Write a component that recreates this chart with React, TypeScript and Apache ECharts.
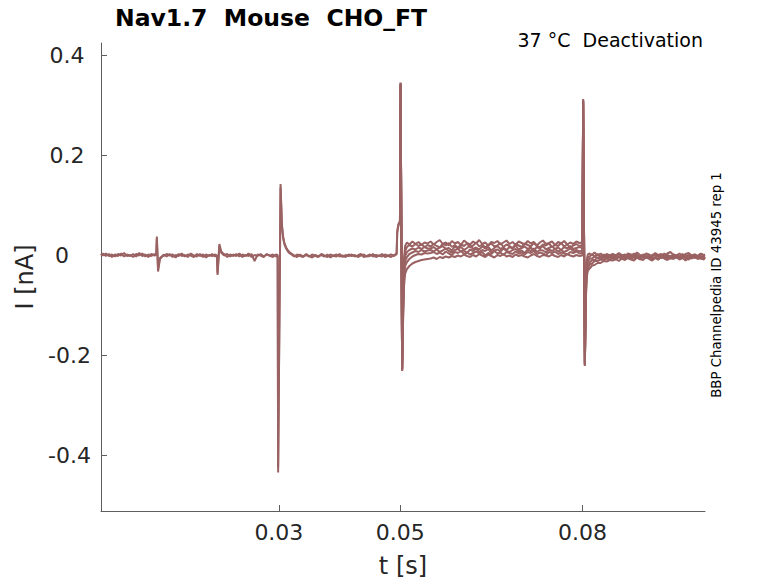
import React, { useEffect, useRef } from "react";
import * as echarts from "echarts";

const TRACE_COLOR = "#9a6262";

const xTicks = [0.03, 0.05, 0.08];
const yTicks = [-0.4, -0.2, 0, 0.2, 0.4];

// time points for the first part (shared by the two early traces)
const preTimes = [
  0.0007, 0.001, 0.0015, 0.002, 0.0025, 0.003, 0.0035, 0.004, 0.0045, 0.005, 0.0055, 0.006, 0.0065, 0.007, 0.0075, 0.008, 0.0085, 0.009, 0.0095,
  0.0098, 0.0099, 0.0101, 0.0104, 0.0108,
  0.011, 0.0115, 0.012, 0.0125, 0.013, 0.0135, 0.014, 0.0145, 0.015, 0.0155, 0.016, 0.0165, 0.017, 0.0175, 0.018, 0.0185, 0.019, 0.0195,
  0.0198, 0.0199, 0.0202, 0.0205, 0.0209,
  0.021, 0.0215, 0.022, 0.0225, 0.023, 0.0235, 0.024, 0.0245, 0.025, 0.0255, 0.026, 0.0265, 0.027, 0.0275, 0.028, 0.0285, 0.029, 0.0295,
  0.0298, 0.02988, 0.03028, 0.0305, 0.0307, 0.0309, 0.0312, 0.0315, 0.0318, 0.0322,
  0.0325, 0.033, 0.0335, 0.034, 0.0345, 0.035, 0.0355, 0.036, 0.0365, 0.037, 0.0375, 0.038, 0.0385, 0.039, 0.0395, 0.04, 0.0405, 0.041, 0.0415, 0.042, 0.0425, 0.043, 0.0435, 0.044, 0.0445, 0.045, 0.0455, 0.046, 0.0465, 0.047, 0.0475, 0.048, 0.0485, 0.049,
  0.0494, 0.0495, 0.0497, 0.04995,
];

const preTraceA = [
  0.002, -0.001, 0.003, -0.002, 0.001, -0.003, 0.002, -0.001, 0.004, -0.002, 0.0, -0.004, 0.002, -0.001, 0.003, -0.003, 0.001, -0.002, 0.002,
  -0.001, 0.037, -0.033, -0.008, -0.003,
  0.001, -0.003, 0.002, -0.004, 0.0, -0.002, 0.003, -0.003, 0.001, -0.001, -0.004, 0.002, -0.002, 0.001, -0.005, 0.0, -0.002, 0.001,
  -0.002, -0.036, 0.022, 0.007, 0.002,
  -0.001, 0.002, -0.003, 0.001, -0.002, 0.003, -0.004, 0.0, -0.002, 0.002, -0.012, 0.001, -0.001, -0.004, 0.002, -0.002, 0.001, -0.003,
  -0.002, -0.435, 0.142, 0.062, 0.037, 0.025, 0.015, 0.009, 0.005, 0.002,
  -0.001, -0.004, 0.001, -0.003, 0.002, -0.002, -0.005, 0.0, -0.003, 0.002, -0.001, -0.004, 0.001, -0.002, -0.003, 0.002, -0.004, 0.0, -0.002, 0.001, -0.003, -0.001, 0.002, -0.004, -0.002, 0.001, -0.003, 0.0, -0.002, 0.002, -0.004, -0.001, 0.001, -0.002,
  0.004, 0.048, 0.062, 0.068,
];

const preTraceB = [
  -0.001, 0.003, -0.002, 0.002, -0.004, 0.001, -0.002, 0.003, -0.003, 0.001, -0.002, 0.002, -0.003, 0.004, -0.002, 0.001, -0.004, 0.002, -0.001,
  0.001, 0.033, -0.028, -0.006, -0.002,
  -0.002, 0.002, -0.001, 0.001, -0.005, 0.002, -0.002, 0.0, -0.004, 0.003, -0.001, -0.003, 0.002, -0.004, 0.001, -0.002, 0.002, -0.003,
  0.0, -0.04, 0.018, 0.005, 0.0,
  0.002, -0.004, 0.001, -0.002, 0.002, -0.003, 0.001, -0.002, 0.003, -0.004, 0.0, -0.002, 0.002, -0.003, 0.001, -0.001, -0.004, 0.001,
  0.0, -0.425, 0.135, 0.058, 0.034, 0.022, 0.013, 0.007, 0.003, 0.0,
  -0.003, 0.001, -0.002, -0.004, 0.0, -0.003, 0.001, -0.002, -0.004, 0.0, -0.003, 0.001, -0.005, -0.001, 0.001, -0.003, -0.001, -0.004, 0.001, -0.002, 0.0, -0.004, -0.001, 0.001, -0.003, -0.002, 0.002, -0.004, -0.001, -0.003, 0.001, -0.002, -0.004, 0.0,
  0.001, 0.044, 0.059, 0.066,
];

// time points for the second part (shared by the six later sweeps)
const postTimes = [
  0.04995, 0.05005, 0.05031,
  0.05045, 0.0506, 0.0508, 0.0511, 0.0515, 0.052, 0.0525, 0.053, 0.0535, 0.054, 0.0545,
  0.055, 0.0555, 0.056, 0.0565, 0.057, 0.0575, 0.058, 0.0585, 0.059, 0.0595,
  0.06, 0.0605, 0.061, 0.0615, 0.062, 0.0625, 0.063, 0.0635, 0.064, 0.0645,
  0.065, 0.0655, 0.066, 0.0665, 0.067, 0.0675, 0.068, 0.0685, 0.069, 0.0695,
  0.07, 0.0705, 0.071, 0.0715, 0.072, 0.0725, 0.073, 0.0735, 0.074, 0.0745,
  0.075, 0.0755, 0.076, 0.0765, 0.077, 0.0775, 0.078, 0.0785, 0.079, 0.0795,
  0.08, 0.08013, 0.08041,
  0.08055, 0.0807, 0.0809, 0.0812, 0.0816, 0.082, 0.0825, 0.083, 0.0835, 0.084, 0.0845,
  0.085, 0.0855, 0.086, 0.0865, 0.087, 0.0875, 0.088, 0.0885, 0.089, 0.0895,
  0.09, 0.0905, 0.091, 0.0915, 0.092, 0.0925, 0.093, 0.0935, 0.094, 0.0945,
  0.095, 0.0955, 0.096, 0.0965, 0.097, 0.0975, 0.098, 0.0985, 0.099, 0.0995,
  0.1, 0.1002,
];

const sweep1 = [
  0.068, 0.345, -0.232,
  -0.09, -0.01, 0.018, 0.025, 0.021, 0.027, 0.022, 0.026, 0.02, 0.025, 0.023,
  0.027, 0.021, 0.026, 0.03, 0.022, 0.025, 0.019, 0.028, 0.023, 0.026,
  0.02, 0.029, 0.024, 0.021, 0.027, 0.023, 0.03, 0.022, 0.025, 0.019,
  0.026, 0.024, 0.028, 0.021, 0.025, 0.029, 0.022, 0.026, 0.02, 0.027,
  0.024, 0.021, 0.028, 0.023, 0.026, 0.019, 0.025, 0.029, 0.022, 0.024,
  0.027, 0.02, 0.026, 0.023, 0.028, 0.021, 0.025, 0.022, 0.027, 0.024,
  0.025, 0.312, -0.222,
  -0.1, -0.046, -0.031, -0.027, -0.021, -0.02, -0.016, -0.016, -0.012, -0.013, -0.01,
  -0.011, -0.008, -0.012, -0.007, -0.01, -0.006, -0.009, -0.011, -0.005, -0.008,
  -0.01, -0.004, -0.008, -0.011, -0.006, -0.009, -0.003, -0.007, -0.01, -0.005,
  -0.008, -0.004, -0.009, -0.006, -0.011, -0.005, -0.007, -0.003, -0.008, -0.006,
  -0.009, -0.005,
];

const sweep2 = [
  0.067, 0.34, -0.228,
  -0.1, -0.02, 0.008, 0.016, 0.02, 0.017, 0.022, 0.018, 0.021, 0.016, 0.02,
  0.017, 0.022, 0.018, 0.015, 0.023, 0.019, 0.024, 0.016, 0.02, 0.014,
  0.021, 0.018, 0.023, 0.016, 0.019, 0.025, 0.017, 0.021, 0.015, 0.02,
  0.023, 0.017, 0.019, 0.024, 0.016, 0.021, 0.018, 0.014, 0.022, 0.019,
  0.016, 0.023, 0.02, 0.017, 0.024, 0.018, 0.015, 0.021, 0.019, 0.023,
  0.016, 0.02, 0.018, 0.024, 0.017, 0.021, 0.015, 0.019, 0.022, 0.018,
  0.02, 0.308, -0.218,
  -0.095, -0.038, -0.027, -0.019, -0.017, -0.012, -0.012, -0.009, -0.01, -0.007, -0.009,
  -0.006, -0.009, -0.004, -0.007, -0.002, -0.006, -0.008, -0.003, -0.005, -0.009,
  -0.004, -0.006, -0.001, -0.007, -0.005, -0.009, -0.003, -0.006, -0.004, -0.008,
  -0.002, -0.005, -0.007, -0.003, -0.006, -0.009, -0.004, -0.006, -0.002, -0.007,
  -0.005, -0.004,
];

const sweep3 = [
  0.068, 0.343, -0.23,
  -0.11, -0.03, -0.002, 0.006, 0.01, 0.013, 0.011, 0.015, 0.012, 0.016, 0.013,
  0.013, 0.016, 0.011, 0.015, 0.018, 0.012, 0.014, 0.009, 0.017, 0.013,
  0.016, 0.01, 0.014, 0.019, 0.012, 0.015, 0.011, 0.017, 0.013, 0.016,
  0.009, 0.014, 0.018, 0.012, 0.015, 0.01, 0.016, 0.013, 0.019, 0.011,
  0.014, 0.017, 0.012, 0.015, 0.009, 0.016, 0.013, 0.018, 0.011, 0.014,
  0.017, 0.012, 0.015, 0.01, 0.016, 0.013, 0.018, 0.012, 0.014, 0.016,
  0.014, 0.31, -0.22,
  -0.09, -0.03, -0.019, -0.015, -0.01, -0.01, -0.006, -0.007, -0.005, -0.006, -0.004,
  -0.003, -0.006, -0.002, -0.005, -0.008, -0.003, -0.001, -0.006, -0.004, -0.007,
  -0.002, -0.005, -0.003, -0.008, -0.004, -0.001, -0.006, -0.003, -0.007, -0.002,
  -0.005, -0.004, -0.008, -0.002, -0.004, -0.006, -0.001, -0.005, -0.003, -0.007,
  -0.004, -0.003,
];

const sweep4 = [
  0.066, 0.338, -0.226,
  -0.12, -0.04, -0.012, -0.004, 0.002, 0.005, 0.008, 0.006, 0.01, 0.007, 0.009,
  0.01, 0.007, 0.011, 0.006, 0.009, 0.013, 0.008, 0.005, 0.01, 0.012,
  0.007, 0.009, 0.004, 0.011, 0.008, 0.013, 0.006, 0.01, 0.008, 0.012,
  0.005, 0.009, 0.011, 0.007, 0.013, 0.008, 0.006, 0.01, 0.012, 0.007,
  0.009, 0.004, 0.011, 0.008, 0.013, 0.006, 0.01, 0.009, 0.005, 0.011,
  0.008, 0.012, 0.007, 0.01, 0.006, 0.009, 0.013, 0.008, 0.01, 0.007,
  0.009, 0.305, -0.216,
  -0.085, -0.022, -0.014, -0.007, -0.007, -0.003, -0.006, -0.002, -0.005, -0.001, -0.004,
  -0.004, -0.001, -0.005, -0.002, 0.001, -0.004, -0.006, -0.002, 0.0, -0.005,
  -0.003, -0.001, -0.006, -0.002, 0.001, -0.004, -0.002, -0.005, 0.0, -0.003,
  -0.006, -0.001, -0.004, 0.001, -0.003, -0.005, -0.002, 0.0, -0.004, -0.002,
  -0.005, -0.003,
];

const sweep5 = [
  0.068, 0.344, -0.231,
  -0.13, -0.05, -0.022, -0.014, -0.008, -0.003, 0.0, 0.002, 0.001, 0.004, 0.003,
  0.004, 0.006, 0.002, 0.005, 0.001, 0.007, 0.003, 0.0, 0.006, 0.004,
  0.008, 0.002, 0.005, 0.001, 0.004, 0.007, 0.003, 0.006, -0.001, 0.004,
  0.002, 0.008, 0.003, 0.005, 0.0, 0.006, 0.004, 0.002, 0.007, 0.003,
  0.005, 0.001, 0.006, 0.004, 0.008, 0.002, 0.005, 0.003, 0.0, 0.006,
  0.004, 0.007, 0.002, 0.005, 0.003, 0.001, 0.006, 0.004, 0.007, 0.003,
  0.004, 0.309, -0.221,
  -0.08, -0.015, -0.005, -0.003, 0.001, -0.003, 0.002, -0.004, 0.001, -0.003, 0.0,
  0.0, -0.003, 0.002, -0.002, -0.005, 0.001, -0.002, 0.003, -0.001, -0.004,
  0.001, -0.002, -0.005, 0.0, 0.002, -0.003, -0.001, 0.003, -0.002, -0.004,
  0.001, -0.001, -0.003, 0.002, -0.002, 0.0, -0.004, 0.001, -0.002, 0.003,
  -0.001, -0.002,
];

const sweep6 = [
  0.067, 0.341, -0.229,
  -0.14, -0.065, -0.038, -0.028, -0.022, -0.017, -0.014, -0.012, -0.01, -0.009, -0.008,
  -0.007, -0.005, -0.008, -0.004, -0.006, -0.003, -0.005, -0.002, -0.004, -0.001,
  -0.003, 0.001, -0.002, -0.004, 0.0, -0.003, 0.002, -0.001, -0.004, 0.001,
  -0.002, -0.005, 0.0, -0.002, 0.002, -0.003, -0.001, -0.004, 0.001, -0.002,
  0.0, -0.003, -0.005, -0.001, 0.002, -0.002, -0.004, 0.0, -0.001, -0.003,
  0.001, -0.002, -0.004, 0.0, -0.003, 0.002, -0.001, -0.003, 0.0, -0.002,
  -0.001, 0.306, -0.219,
  -0.075, -0.01, 0.001, 0.003, 0.0, 0.005, -0.001, 0.003, -0.002, 0.002, -0.001,
  0.002, -0.001, 0.004, 0.0, -0.003, 0.003, 0.001, -0.002, 0.005, 0.0,
  -0.002, 0.003, 0.001, -0.003, 0.004, 0.0, 0.002, -0.002, 0.003, 0.006,
  0.0, -0.001, 0.003, -0.002, 0.002, 0.004, -0.001, 0.001, -0.003, 0.002,
  0.0, 0.001,
];

const preTraces = [preTraceA, preTraceB];
const postTraces = [sweep1, sweep2, sweep3, sweep4, sweep5, sweep6];

const FONT = "DejaVu Sans";
const LABEL_COLOR = "#262626";
const AXIS_COLOR = "#5e5e5e";

function makeLine(times: number[], values: number[]) {
  const data: number[][] = [];
  for (let i = 0; i < times.length && i < values.length; i++) {
    data.push([times[i], values[i]]);
  }
  return {
    type: "line",
    data,
    symbol: "none",
    showSymbol: false,
    silent: true,
    lineStyle: { color: TRACE_COLOR, width: 2 },
    itemStyle: { color: TRACE_COLOR },
    emphasis: { disabled: true },
  };
}

export default function App() {
  const ref = useRef<HTMLDivElement>(null);

  useEffect(() => {
    if (!ref.current) return;
    const chart = echarts.init(ref.current, undefined, { renderer: "svg" });
    const series = [
      ...preTraces.map((v) => makeLine(preTimes, v)),
      ...postTraces.map((v) => makeLine(postTimes, v)),
    ];
    const yRich = {
      z: { fontSize: 22, fontFamily: FONT, color: LABEL_COLOR, padding: [0, 10, 0, 0] },
      n: { fontSize: 22, fontFamily: FONT, color: LABEL_COLOR, padding: [0, 0, 0, 5] },
      p: { fontSize: 22, fontFamily: FONT, color: LABEL_COLOR },
    };
    chart.setOption({
      animation: false,
      backgroundColor: "#ffffff",
      grid: { left: 101, right: 73, top: 43, bottom: 71 },
      xAxis: {
        type: "value",
        min: 0.0007,
        max: 0.1002,
        name: "t [s]",
        nameLocation: "middle",
        nameGap: 43,
        nameTextStyle: { fontSize: 24, fontFamily: FONT, color: LABEL_COLOR },
        axisLine: { show: true, onZero: false, lineStyle: { color: AXIS_COLOR, width: 1 } },
        axisTick: {
          show: true,
          inside: true,
          length: 6,
          customValues: xTicks,
          lineStyle: { color: AXIS_COLOR, width: 1 },
        },
        axisLabel: {
          show: true,
          customValues: xTicks,
          margin: 10,
          fontSize: 22,
          fontFamily: FONT,
          color: LABEL_COLOR,
          formatter: (v: number) => String(v),
        },
        splitLine: { show: false },
      },
      yAxis: {
        type: "value",
        min: -0.512,
        max: 0.424,
        name: "I [nA]",
        nameLocation: "middle",
        nameRotate: 90,
        nameGap: 62,
        nameTextStyle: { fontSize: 24, fontFamily: FONT, color: LABEL_COLOR },
        axisLine: { show: true, onZero: false, lineStyle: { color: AXIS_COLOR, width: 1 } },
        axisTick: {
          show: true,
          inside: true,
          length: 6,
          customValues: yTicks,
          lineStyle: { color: AXIS_COLOR, width: 1 },
        },
        axisLabel: {
          show: true,
          customValues: yTicks,
          margin: 34,
          align: "center",
          fontSize: 22,
          fontFamily: FONT,
          color: LABEL_COLOR,
          formatter: (v: number) => {
            const s = String(Math.round(v * 10) / 10);
            if (s === "0") return "{z|0}";
            if (s.charAt(0) === "-") return "{n|" + s + "}";
            return "{p|" + s + "}";
          },
          rich: yRich,
        },
        splitLine: { show: false },
      },
      graphic: [
        {
          type: "text",
          x: 115,
          y: 18,
          silent: true,
          style: {
            text: "Nav1.7  Mouse  CHO_FT",
            fontSize: 23.5,
            fontWeight: "bold",
            fontFamily: FONT,
            fill: "#000000",
            align: "left",
            verticalAlign: "middle",
          },
        },
        {
          type: "text",
          x: 703,
          y: 40,
          silent: true,
          style: {
            text: "37 °C  Deactivation",
            fontSize: 19,
            fontFamily: FONT,
            fill: "#000000",
            align: "right",
            verticalAlign: "middle",
          },
        },
        {
          type: "text",
          x: 716,
          y: 285,
          rotation: Math.PI / 2,
          silent: true,
          style: {
            text: "BBP Channelpedia ID 43945 rep 1",
            fontSize: 13.3,
            fontFamily: FONT,
            fill: "#000000",
            align: "center",
            verticalAlign: "middle",
          },
        },
      ],
      series,
    });
    return () => {
      chart.dispose();
    };
  }, []);

  return (
    <div
      ref={ref}
      style={{ position: "fixed", left: 0, top: 0, width: 778, height: 583, background: "#fff" }}
    />
  );
}
